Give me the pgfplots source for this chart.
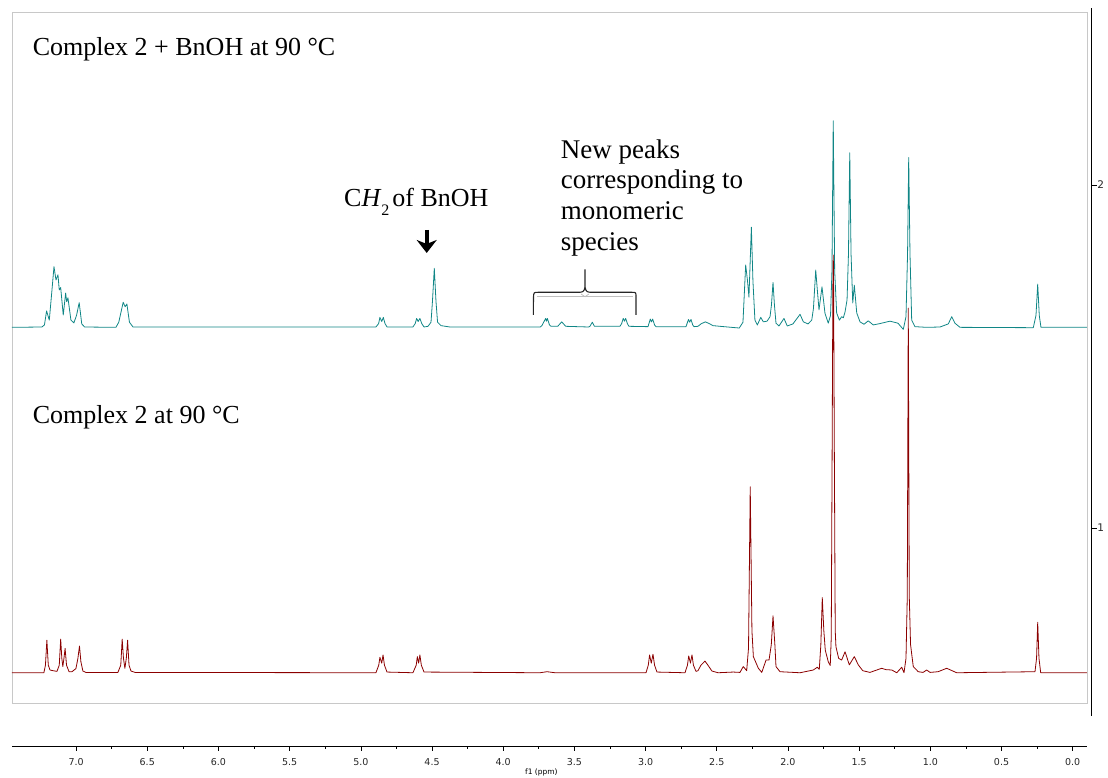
\documentclass[border=0pt]{standalone}
\usepackage{pgfplots}
\pgfplotsset{compat=1.18}
\usepackage{fontspec}
\setmainfont{Liberation Serif}
\newfontfamily\tickfont{DejaVu Sans}
\usetikzlibrary{arrows.meta}
\definecolor{tealc}{RGB}{16,134,134}
\definecolor{redc}{RGB}{139,0,0}
\definecolor{boxgray}{RGB}{200,200,200}
\begin{document}
\begin{tikzpicture}
\path[use as bounding box] (0pt,0pt) rectangle (1108pt,778pt);
% spectra in the grey frame
\begin{axis}[at={(12pt,75pt)}, anchor=south west, scale only axis,
  width=1075pt, height=691pt, x dir=reverse,
  xmin=-0.1, xmax=7.45, ymin=0.4898, ymax=2.5044,
  xtick=\empty, ytick=\empty,
  axis line style={boxgray, line width=0.8pt}]
\addplot[tealc, line width=0.8pt, line join=round] coordinates {
(7.450,1.585) (7.240,1.586) (7.222,1.592) (7.207,1.633) (7.188,1.606) (7.170,1.690) (7.155,1.762) (7.141,1.723) (7.127,1.738) (7.118,1.694) (7.108,1.701) (7.090,1.621) (7.073,1.685) (7.066,1.660) (7.057,1.671) (7.036,1.606) (7.015,1.598) (6.996,1.621) (6.978,1.657) (6.960,1.595) (6.940,1.586) (6.720,1.585) (6.700,1.600) (6.669,1.658) (6.655,1.645) (6.643,1.653) (6.625,1.600) (6.600,1.586)
(4.894,1.586) (4.875,1.596) (4.866,1.614) (4.853,1.602) (4.842,1.614) (4.830,1.596) (4.816,1.586)
(4.634,1.586) (4.618,1.596) (4.608,1.611) (4.597,1.602) (4.585,1.611) (4.572,1.596) (4.556,1.586)
(4.528,1.588) (4.507,1.600) (4.497,1.660) (4.484,1.757) (4.472,1.660) (4.461,1.600) (4.437,1.590) (4.374,1.586)
(3.740,1.586) (3.728,1.590) (3.702,1.611) (3.696,1.603) (3.690,1.611) (3.675,1.592) (3.664,1.588)
(3.617,1.588) (3.589,1.601) (3.561,1.588)
(3.400,1.586) (3.391,1.588) (3.374,1.600) (3.359,1.588)
(3.180,1.588) (3.168,1.596) (3.157,1.611) (3.148,1.603) (3.140,1.611) (3.128,1.596) (3.117,1.588)
(2.983,1.587) (2.967,1.609) (2.959,1.601) (2.950,1.609) (2.937,1.592) (2.927,1.587)
(2.716,1.587) (2.699,1.608) (2.690,1.600) (2.681,1.608) (2.669,1.592) (2.660,1.587)
(2.632,1.588) (2.611,1.595) (2.581,1.601) (2.553,1.596) (2.527,1.590) (2.477,1.588) (2.342,1.583) (2.316,1.600) (2.297,1.767) (2.284,1.720) (2.274,1.673) (2.257,1.877) (2.246,1.720) (2.232,1.606) (2.215,1.592) (2.191,1.614) (2.173,1.601) (2.147,1.603) (2.126,1.616) (2.116,1.650) (2.105,1.716) (2.095,1.650) (2.084,1.597) (2.063,1.589) (2.028,1.611) (2.005,1.589) (1.965,1.595) (1.915,1.623) (1.892,1.601) (1.859,1.595) (1.833,1.606) (1.821,1.640) (1.805,1.752) (1.793,1.690) (1.782,1.636) (1.761,1.703) (1.740,1.626) (1.717,1.597) (1.701,1.620) (1.691,1.750) (1.682,2.187) (1.672,1.750) (1.658,1.627) (1.639,1.606) (1.623,1.616) (1.611,1.613) (1.599,1.630) (1.585,1.665) (1.575,1.800) (1.566,2.094) (1.557,1.800) (1.545,1.656) (1.534,1.708) (1.517,1.627) (1.494,1.601) (1.466,1.594) (1.436,1.604) (1.401,1.592) (1.354,1.596) (1.283,1.603) (1.227,1.597) (1.190,1.579) (1.171,1.616) (1.160,1.800) (1.152,2.080) (1.143,1.800) (1.131,1.606) (1.108,1.587) (1.026,1.585) (0.932,1.586) (0.874,1.595) (0.850,1.616) (0.827,1.597) (0.792,1.585) (0.277,1.584) (0.258,1.620) (0.246,1.711) (0.235,1.620) (0.223,1.585) (-0.100,1.585)
};
\addplot[redc, line width=0.8pt, line join=round] coordinates {
(7.450,0.578) (7.226,0.578) (7.215,0.600) (7.205,0.673) (7.195,0.600) (7.183,0.586) (7.162,0.584) (7.134,0.582) (7.118,0.600) (7.108,0.676) (7.100,0.620) (7.093,0.596) (7.085,0.620) (7.077,0.649) (7.067,0.600) (7.049,0.581) (7.029,0.581) (7.001,0.590) (6.987,0.620) (6.976,0.656) (6.966,0.610) (6.952,0.583) (6.931,0.579) (6.706,0.579) (6.686,0.600) (6.676,0.676) (6.667,0.620) (6.657,0.591) (6.647,0.620) (6.638,0.673) (6.628,0.600) (6.614,0.583) (6.586,0.579)
(4.894,0.578) (4.874,0.600) (4.866,0.623) (4.853,0.606) (4.844,0.630) (4.834,0.600) (4.816,0.580)
(4.634,0.578) (4.611,0.600) (4.603,0.625) (4.594,0.606) (4.585,0.630) (4.575,0.600) (4.556,0.580)
(3.742,0.578) (3.692,0.581) (3.636,0.578)
(2.997,0.578) (2.981,0.600) (2.972,0.630) (2.960,0.606) (2.948,0.632) (2.937,0.600) (2.920,0.580)
(2.723,0.578) (2.706,0.600) (2.697,0.627) (2.685,0.606) (2.674,0.630) (2.664,0.600) (2.646,0.582)
(2.632,0.584) (2.611,0.600) (2.583,0.612) (2.562,0.600) (2.534,0.583) (2.491,0.578) (2.384,0.580) (2.337,0.579) (2.314,0.596) (2.290,0.584) (2.277,0.650) (2.265,1.120) (2.253,0.700) (2.243,0.625) (2.208,0.591) (2.184,0.579) (2.154,0.615) (2.133,0.615) (2.117,0.660) (2.105,0.744) (2.092,0.660) (2.084,0.596) (2.056,0.581) (1.915,0.578) (1.822,0.586) (1.794,0.594) (1.780,0.588) (1.769,0.660) (1.759,0.797) (1.748,0.700) (1.738,0.644) (1.717,0.610) (1.703,0.599) (1.696,0.680) (1.690,1.200) (1.684,1.750) (1.682,1.796) (1.680,1.750) (1.674,1.200) (1.668,0.700) (1.663,0.654) (1.644,0.620) (1.623,0.615) (1.599,0.639) (1.569,0.601) (1.534,0.625) (1.506,0.601) (1.475,0.584) (1.424,0.579) (1.342,0.591) (1.311,0.587) (1.271,0.586) (1.236,0.578) (1.201,0.594) (1.185,0.578) (1.171,0.620) (1.162,0.800) (1.155,1.641) (1.148,0.800) (1.139,0.660) (1.120,0.596) (1.085,0.581) (1.051,0.579) (1.026,0.586) (1.002,0.579) (0.946,0.581) (0.885,0.591) (0.815,0.578) (0.265,0.581) (0.254,0.620) (0.246,0.725) (0.237,0.620) (0.225,0.578) (-0.100,0.578)
};
\end{axis}
% bottom ppm axis
\begin{axis}[at={(12pt,32pt)}, anchor=south west, scale only axis,
  width=1075pt, height=10pt, x dir=reverse,
  xmin=-0.1, xmax=7.45, ymin=0, ymax=1,
  axis x line*=bottom, axis y line=none,
  x axis line style={-, black, line width=0.8pt},
  xtick={0,0.5,1,1.5,2,2.5,3,3.5,4,4.5,5,5.5,6,6.5,7},
  minor x tick num=1, tick align=outside,
  major tick length=5pt, minor tick length=3pt,
  tick style={black, line width=0.6pt},
  /pgf/number format/assume math mode=true,
  xticklabel style={font=\tickfont\fontsize{9.5}{11}\selectfont, text=black!85, yshift=-4pt,
    /pgf/number format/.cd, fixed, fixed zerofill, precision=1},
  xlabel={f1 (ppm)},
  xlabel style={font=\tickfont\fontsize{7.5}{8}\selectfont, at={(axis description cs:0.4925,0)}, anchor=center, yshift=-26.5pt}]
\end{axis}
% right intensity axis
\begin{axis}[at={(12pt,62pt)}, anchor=south west, scale only axis,
  width=1079.7pt, height=708pt,
  xmin=0, xmax=1, ymin=0.4519, ymax=2.516,
  axis y line*=right, axis x line=none,
  y axis line style={-, black, line width=0.8pt},
  ytick={1,2}, tick align=outside, major tick length=5pt,
  tick style={black, line width=0.6pt},
  /pgf/number format/assume math mode=true,
  yticklabel style={font=\tickfont\fontsize{10.5}{12}\selectfont, text=black!85, xshift=-3pt}]
\end{axis}
% annotations
\node[anchor=base west, inner sep=0pt, font=\fontsize{26}{31}\selectfont] at (32.7pt,722.3pt) {Complex 2 + BnOH at 90 °C};
\node[anchor=base west, inner sep=0pt, font=\fontsize{26}{31}\selectfont] at (32.7pt,354.7pt) {Complex 2 at 90 °C};
\node[anchor=base west, inner sep=0pt, font=\fontsize{26}{31}\selectfont] at (344pt,571.3pt) {C\textit{H}\raisebox{-9pt}{\fontsize{16}{16}\selectfont 2}\hspace{3pt}of BnOH};
\draw[line width=4pt, -{Stealth[length=13pt,width=20pt,inset=4pt]}] (426.7pt,548pt) -- (426.7pt,525pt);
\node[anchor=base west, inner sep=0pt, font=\fontsize{27}{32}\selectfont] at (560.7pt,619.7pt) {New peaks};
\node[anchor=base west, inner sep=0pt, font=\fontsize{27}{32}\selectfont] at (560.7pt,589.1pt) {corresponding to};
\node[anchor=base west, inner sep=0pt, font=\fontsize{27}{32}\selectfont] at (560.7pt,558.5pt) {monomeric};
\node[anchor=base west, inner sep=0pt, font=\fontsize{27}{32}\selectfont] at (560.7pt,527.9pt) {species};
% brace
\draw[black!25, line width=1pt] (537pt,481.3pt) -- (633pt,481.3pt);
\draw[black!25, line width=0.8pt] (581pt,484pt) -- (585pt,481.3pt) -- (589pt,484pt);
\draw[black!85, line width=1.1pt, line join=round]
  (533.3pt,463pt) -- (533.5pt,481pt) .. controls (533.8pt,485.7pt) .. (538.3pt,485.7pt)
  -- (580pt,485.7pt) .. controls (584.5pt,485.7pt) and (585pt,489pt) .. (585pt,494pt) -- (585pt,508.7pt)
  (585pt,494pt) .. controls (585pt,489pt) and (585.5pt,485.7pt) .. (590pt,485.7pt)
  -- (631.7pt,485.7pt) .. controls (636pt,485.7pt) .. (636pt,481pt) -- (636pt,463pt);
\end{tikzpicture}
\end{document}
